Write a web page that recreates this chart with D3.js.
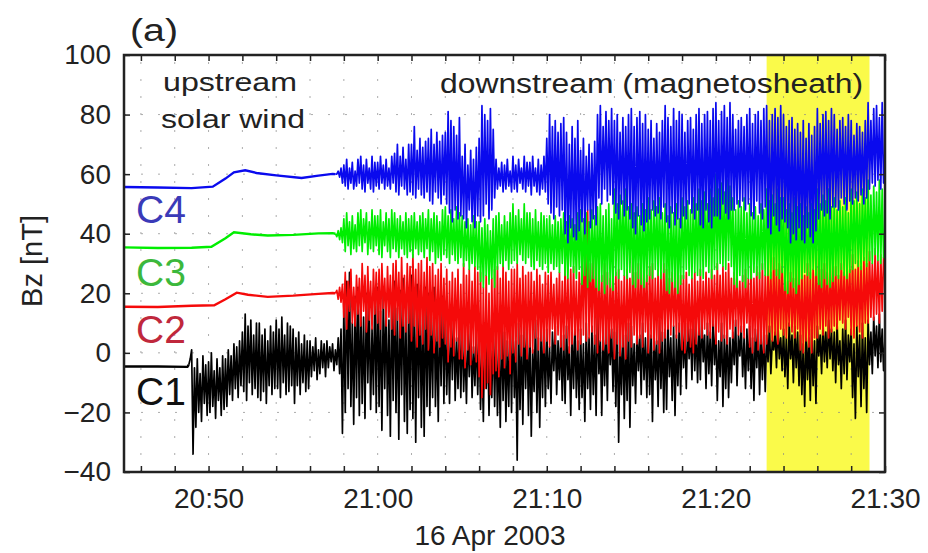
<!DOCTYPE html>
<html>
<head>
<meta charset="utf-8">
<script src="https://cdn.jsdelivr.net/npm/d3@7"></script>
<style>
body{margin:0;background:#fff;}
svg text{font-family:"Liberation Sans",Arial,sans-serif;fill:#222;}
</style>
</head>
<body>
<div id="chart"></div>
<script>
// axis settings
var timeStart = "20:45:00";
var timeEnd = "21:30:00";
var xLabelTicks = ["20:50","21:00","21:10","21:20","21:30"];
var yTicks = [-40,-20,0,20,40,60,80,100];
var bandStart = "21:23:00";
var bandEnd = "21:29:05";

// quiet (upstream) parts, [time, Bz]
var c1Quiet = [["20:45:00",-4.6],["20:47:00",-4.6],["20:48:45",-4.7]];
var c2Quiet = [["20:45:00",15.5],["20:47:00",15.4],["20:49:00",15.8],["20:50:20",16.0],["20:51:00",18.0],["20:51:40",20.2],["20:52:20",19.5],["20:53:30",18.8],["20:55:00",19.2],["20:56:30",19.8],["20:57:20",20.1]];
var c3Quiet = [["20:45:00",35.4],["20:47:00",35.2],["20:49:00",35.3],["20:50:10",35.6],["20:51:00",38.5],["20:51:30",40.5],["20:52:30",39.8],["20:53:30",39.4],["20:55:00",39.6],["20:56:30",40.1],["20:57:20",40.2]];
var c4Quiet = [["20:45:00",55.7],["20:47:00",55.5],["20:49:00",55.3],["20:50:15",55.8],["20:51:00",58.5],["20:51:30",60.6],["20:52:10",61.3],["20:52:50",60.4],["20:54:00",59.6],["20:55:30",58.7],["20:56:30",59.5],["20:57:20",60.1]];

// noisy parts, one sample every 5 s from the start time (one row = one minute)
var stepSec = 5;
var c1Start = "20:48:50";
var c1Noisy = [-4,-2,
 1,-34,-5,-25,-2,-20,-7,-23,-1,-17,-4,-21,
 -3,-20,0,-18,-6,-22,-2,-16,-5,-21,-1,-19,
 -2,-18,1,-14,-1,-16,3,-12,2,-15,4,-11,
 7,-13,13,-16,9,-10,11,-14,6,-12,10,-15,
 10,-16,6,-13,8,-17,4,-11,9,-14,7,-12,
 11,-12,8,-15,12,-10,6,-14,10,-13,9,-11,
 8,-17,5,-11,7,-14,3,-10,6,-13,4,-12,
 4,-8,2,-6,5,-9,1,-7,4,-5,3,-8,
 4,-5,2,-3,3,-6,1,-4,5,-7,8,-27,
 15,-20,24,-12,27,-18,10,-24,19,-15,22,-21,
 18,-17,12,-22,20,-10,16,-19,8,-14,21,-20,
 22,-18,14,-26,19,-12,17,-21,11,-28,20,-16,
 24,-20,15,-29,21,-14,25,-23,12,-27,18,-19,
 26,-22,17,-30,23,-15,20,-25,14,-28,22,-18,
 20,-21,12,-15,22,-18,9,-23,16,-11,19,-17,
 15,-14,7,-17,12,-9,14,-16,5,-12,11,-15,
 10,-13,3,-17,8,-8,9,-15,2,-11,7,-14,
 8,-19,1,-23,10,-12,6,-21,3,-15,9,-18,
 9,-21,2,-25,11,-16,7,-23,4,-18,10,-20,
 12,-15,4,-36,10,-19,6,-24,11,-12,8,-21,
 9,-28,1,-13,11,-20,5,-25,8,-15,10,-18,
 8,-12,2,-17,7,-6,9,-14,4,-9,6,-16,
 6,-17,9,-9,2,-21,7,-12,10,-15,4,-19,
 8,-15,3,-23,10,-12,5,-19,9,-14,6,-21,
 17,-7,4,-21,9,-11,6,-16,12,-4,8,-13,
 7,-18,11,-30,4,-14,9,-22,6,-16,10,-25,
 9,-11,3,-17,8,-6,6,-14,10,-9,5,-15,
 10,-14,6,-23,9,-9,4,-18,11,-12,7,-20,
 8,-19,11,-8,5,-16,9,-21,6,-11,10,-14,
 12,-5,7,-12,10,-2,8,-9,13,-6,9,-10,
 9,-9,13,-3,6,-12,10,-7,7,-11,12,-4,
 8,-16,4,-8,10,-18,6,-12,9,-15,5,-10,
 7,-4,11,-11,6,-1,9,-8,5,-12,8,-6,
 9,-12,5,-16,8,-5,10,-14,6,-9,7,-13,
 6,-3,9,-7,4,1,7,-5,10,-2,5,-6,
 8,-8,5,-12,10,-2,6,-10,9,-5,7,-11,
 6,-14,3,-18,7,-9,5,-16,8,-11,4,-17,
 9,-1,6,-7,10,-3,7,-5,11,-2,8,-6,
 7,-10,10,-4,4,-12,8,-7,11,-9,6,-3,
 8,-15,3,-22,9,-8,6,-18,10,-12,5,-20,
 11,-4,7,-7,12,-1,9,-5,13,-3,8,-6,
 5];
var c2Start = "20:57:30";
var c2Noisy = [20,21,18,22,17,23,
 12,27,8,24,14,28,10,22,9,26,13,25,
 9,30,14,26,7,29,11,24,8,28,13,27,
 10,28,8,30,15,25,9,29,12,26,8,30,
 6,31,11,27,5,32,9,26,7,30,10,29,
 4,33,9,28,2,30,6,31,3,27,8,32,
 1,29,6,30,0,26,4,28,2,30,5,25,
 3,28,-3,24,2,27,-1,25,4,28,-2,23,
 -2,30,-5,26,1,28,-4,24,0,29,-3,27,
 -8,27,-15,22,-12,26,-10,20,-14,25,-7,28,
 -6,29,-8,25,-2,30,-5,27,-1,24,-7,28,
 0,28,-3,30,3,25,-1,29,2,26,-2,27,
 2,27,0,24,5,28,1,26,4,23,0,27,
 4,26,2,27,8,23,3,25,6,27,2,24,
 1,30,5,25,0,28,3,29,6,24,1,27,
 3,33,6,40,4,48,5,30,7,35,3,31,
 0,29,4,26,1,30,3,27,0,25,5,29,
 -2,27,3,28,-1,24,2,26,-2,28,4,25,
 2,32,6,27,3,30,5,28,2,31,7,26,
 0,29,5,30,1,25,3,28,0,27,4,30,
 5,28,8,25,6,27,9,24,5,28,7,26,
 1,26,0,27,4,23,2,25,0,27,3,24,
 6,28,5,24,8,27,6,25,5,28,9,26,
 3,30,7,26,4,29,5,27,3,30,8,25,
 5,27,9,28,6,24,7,26,5,28,10,25,
 2,30,0,25,4,29,1,27,3,30,0,26,
 3,31,7,27,4,32,6,28,3,30,8,29,
 6,28,5,24,9,27,7,25,5,28,8,26,
 1,29,0,26,4,30,2,27,0,28,5,29,
 5,32,8,28,6,30,9,27,5,31,7,29,
 9,29,8,26,11,30,10,27,8,29,12,28,
 6,33,5,28,9,31,7,29,5,32,10,30,
 10,34,12,30,11,35,13,31,10,33,14,32,
 27];
var c3Start = "20:57:30";
var c3Noisy = [40,39,41,38,42,37,
 45,34,47,36,44,33,46,35,43,34,47,36,
 48,34,45,37,47,33,44,35,48,34,46,36,
 46,33,48,32,44,36,47,34,45,32,48,35,
 47,34,45,32,46,35,44,33,47,32,45,34,
 46,32,47,35,44,33,46,34,47,32,45,35,
 48,31,45,34,47,30,46,32,44,31,48,33,
 49,32,46,30,48,33,45,31,49,30,47,32,
 46,29,44,31,45,28,43,30,46,29,44,28,
 44,24,42,22,45,26,43,23,41,25,45,22,
 46,28,47,30,43,29,46,31,44,28,47,30,
 50,31,46,30,48,33,45,31,50,30,47,32,
 47,29,45,28,48,31,44,29,47,28,46,30,
 45,27,46,30,43,28,46,29,44,27,45,30,
 47,26,44,25,46,29,45,27,43,25,47,28,
 48,23,45,26,47,22,44,24,48,25,46,22,
 49,21,50,24,46,20,48,23,50,22,45,21,
 55,26,50,25,53,28,51,26,55,25,49,27,
 50,23,47,22,49,25,46,23,50,22,48,24,
 52,26,48,25,51,28,49,26,52,25,47,27,
 50,21,46,20,49,24,47,22,50,20,45,23,
 52,25,49,28,51,26,48,25,52,27,50,26,
 55,26,51,25,54,29,50,27,55,25,52,28,
 60,28,55,30,57,29,54,28,58,31,56,29,
 52,23,48,22,51,26,49,24,52,22,47,25,
 50,25,47,27,49,26,46,25,50,28,48,26,
 55,26,51,25,53,28,50,26,55,25,52,27,
 52,21,48,20,50,24,47,22,52,20,49,23,
 50,25,46,27,49,26,47,25,50,28,48,26,
 55,23,50,22,53,25,51,23,55,22,49,24,
 52,26,48,25,51,28,49,26,52,25,47,27,
 55,28,51,30,54,29,50,28,55,31,52,29,
 58,31,53,30,56,33,54,31,58,30,55,32,
 40];
var c4Start = "20:57:30";
var c4Noisy = [60,60,61,59,62,57,
 63,56,65,55,62,57,64,55,61,56,65,57,
 66,55,63,54,65,57,62,55,66,54,64,56,
 64,55,66,57,63,55,65,56,62,55,66,57,
 67,54,70,53,66,56,69,55,65,53,70,54,
 70,53,76,52,68,55,72,53,69,52,71,54,
 72,51,75,50,70,54,74,52,71,50,73,53,
 74,50,81,47,78,44,76,48,73,45,79,46,
 66,45,70,42,63,48,68,44,65,42,69,46,
 72,44,83,46,80,50,78,45,82,48,75,52,
 65,55,62,56,64,54,63,55,65,56,61,54,
 66,55,63,54,65,57,62,55,66,54,64,56,
 64,53,66,56,62,54,65,53,63,55,66,54,
 72,50,80,47,76,45,78,49,74,46,77,48,
 79,40,74,37,70,42,76,39,72,38,78,41,
 68,44,72,40,66,48,70,42,67,45,71,43,
 80,52,83,50,76,55,81,51,78,53,82,50,
 78,47,80,45,74,50,79,46,76,48,80,45,
 82,42,76,40,79,46,81,43,77,41,80,44,
 75,45,78,48,72,46,77,47,74,45,78,49,
 83,44,79,42,76,47,82,43,78,45,81,42,
 80,46,74,45,78,50,79,47,75,45,80,48,
 82,43,77,42,80,48,81,44,78,42,82,46,
 84,46,78,45,81,50,83,47,79,45,84,48,
 80,48,75,50,78,49,79,51,76,48,80,50,
 82,46,77,45,80,51,81,47,78,45,82,49,
 83,42,78,40,80,46,82,43,79,41,83,45,
 80,44,76,42,78,37,79,40,75,38,77,42,
 74,38,78,37,72,42,77,39,73,37,76,41,
 82,45,77,48,80,46,81,47,78,45,82,49,
 80,49,75,48,78,52,79,50,76,48,80,51,
 78,50,73,52,77,51,76,53,74,50,78,52,
 84,55,78,57,82,56,83,58,79,55,84,57,
 68];

function init(){
    var w = 928;
    var h = 553;
    var left = 124, right = 885, top = 55, bottom = 472;
    var parseT = d3.timeParse("%H:%M:%S");
    var parseHM = d3.timeParse("%H:%M");

    var svg = d3.select("#chart")
                .append("svg")
                .attr("width", w)
                .attr("height", h);

    var x = d3.scaleTime()
              .domain([parseT(timeStart), parseT(timeEnd)])
              .range([left, right]);
    var y = d3.scaleLinear()
              .domain([-40, 100])
              .range([bottom, top]);

    // yellow interval, behind everything
    svg.append("rect")
       .attr("x", x(parseT(bandStart)))
       .attr("y", top)
       .attr("width", x(parseT(bandEnd)) - x(parseT(bandStart)))
       .attr("height", bottom - top)
       .attr("fill", "#fafa4a");

    // dotted grid
    var minorTicks = x.ticks(d3.timeMinute.every(2));
    var grid = svg.append("g")
                  .attr("stroke", "#8a8a8a")
                  .attr("stroke-width", 1)
                  .attr("stroke-dasharray", "2,15")
                  .attr("opacity", 0.7);
    grid.selectAll(".vg")
        .data(minorTicks.filter(function(d){ return x(d) > left + 2 && x(d) < right - 2; }))
        .enter()
        .append("line")
        .attr("x1", function(d){ return x(d); })
        .attr("x2", function(d){ return x(d); })
        .attr("y1", bottom)
        .attr("y2", top);
    grid.selectAll(".hg")
        .data(yTicks.slice(1, -1))
        .enter()
        .append("line")
        .attr("x1", left)
        .attr("x2", right)
        .attr("y1", function(d){ return y(d); })
        .attr("y2", function(d){ return y(d); });

    svg.append("clipPath").attr("id", "plotclip")
       .append("rect")
       .attr("x", left).attr("y", top)
       .attr("width", right - left).attr("height", bottom - top);

    // build the series from the arrays
    function quietPoints(arr){
        return arr.map(function(d){ return [parseT(d[0]), d[1]]; });
    }
    function noisyPoints(start, arr){
        var t0 = parseT(start);
        return arr.map(function(v, i){ return [d3.timeSecond.offset(t0, i * stepSec), v]; });
    }
    var series = [
        {q: quietPoints(c1Quiet), n: noisyPoints(c1Start, c1Noisy), color: "#000000"},
        {q: quietPoints(c2Quiet), n: noisyPoints(c2Start, c2Noisy), color: "#f50a0a"},
        {q: quietPoints(c3Quiet), n: noisyPoints(c3Start, c3Noisy), color: "#00ee00"},
        {q: quietPoints(c4Quiet), n: noisyPoints(c4Start, c4Noisy), color: "#0a0aee"}
    ];

    var line = d3.line()
                 .x(function(d){ return x(d[0]); })
                 .y(function(d){ return y(d[1]); });

    var plot = svg.append("g").attr("clip-path", "url(#plotclip)");
    series.forEach(function(s){
        plot.append("path")
            .attr("d", line(s.q.concat([s.n[0]])))
            .attr("fill", "none")
            .attr("stroke", s.color)
            .attr("stroke-width", 2.4);
        plot.append("path")
            .attr("d", line(s.n))
            .attr("fill", "none")
            .attr("stroke", s.color)
            .attr("stroke-width", 1.7)
            .attr("stroke-linejoin", "round");
    });

    // annotations
    svg.append("text").text("upstream")
       .attr("x", 163).attr("y", 91)
       .attr("font-size", 26)
       .attr("textLength", 134).attr("lengthAdjust", "spacingAndGlyphs");
    svg.append("text").text("solar wind")
       .attr("x", 161).attr("y", 128)
       .attr("font-size", 26)
       .attr("textLength", 144).attr("lengthAdjust", "spacingAndGlyphs");
    svg.append("text").text("downstream (magnetosheath)")
       .attr("x", 440).attr("y", 93)
       .attr("font-size", 27)
       .attr("textLength", 423).attr("lengthAdjust", "spacingAndGlyphs");

    var labels = [["C4", 223, "#3a3ab8"], ["C3", 286, "#3cb83c"], ["C2", 343, "#c0283c"], ["C1", 405, "#111111"]];
    svg.selectAll(".clab")
       .data(labels)
       .enter()
       .append("text")
       .text(function(d){ return d[0]; })
       .attr("x", 136)
       .attr("y", function(d){ return d[1]; })
       .attr("font-size", 39)
       .style("fill", function(d){ return d[2]; });

    // axes with inward ticks
    var xMinor = d3.axisBottom(x).tickValues(minorTicks).tickSizeInner(-6).tickSizeOuter(0).tickFormat("");
    var xTop = d3.axisTop(x).tickValues(minorTicks).tickSizeInner(-6).tickSizeOuter(0).tickFormat("");
    var xLab = d3.axisBottom(x).tickValues(xLabelTicks.map(parseHM)).tickSize(0).tickPadding(16)
                 .tickFormat(d3.timeFormat("%H:%M"));
    var yLeft = d3.axisLeft(y).tickValues(yTicks).tickSizeInner(-6).tickSizeOuter(0).tickPadding(13);
    var yRight = d3.axisRight(y).tickValues(yTicks).tickSizeInner(-6).tickSizeOuter(0).tickFormat("");

    function styleAxis(g){
        g.select(".domain").remove();
        g.selectAll("line").attr("stroke", "#222").attr("stroke-width", 1.5);
        g.selectAll("text").attr("font-size", 28).attr("font-family", null).style("fill", "#222");
    }
    svg.append("g").attr("transform", "translate(0," + bottom + ")").call(xMinor).call(styleAxis);
    svg.append("g").attr("transform", "translate(0," + top + ")").call(xTop).call(styleAxis);
    svg.append("g").attr("transform", "translate(0," + bottom + ")").call(xLab).call(styleAxis);
    svg.append("g").attr("transform", "translate(" + left + ",0)").call(yLeft).call(styleAxis);
    svg.append("g").attr("transform", "translate(" + right + ",0)").call(yRight).call(styleAxis);

    // frame
    svg.append("rect")
       .attr("x", left).attr("y", top)
       .attr("width", right - left).attr("height", bottom - top)
       .attr("fill", "none")
       .attr("stroke", "#222")
       .attr("stroke-width", 2.5);

    // titles
    svg.append("text").text("(a)")
       .attr("x", 130).attr("y", 41)
       .attr("font-size", 31)
       .attr("textLength", 48).attr("lengthAdjust", "spacingAndGlyphs");
    svg.append("text").text("16 Apr 2003")
       .attr("x", 490).attr("y", 545)
       .attr("text-anchor", "middle")
       .attr("font-size", 28);
    svg.append("text").text("Bz [nT]")
       .attr("transform", "translate(42,261) rotate(-90)")
       .attr("text-anchor", "middle")
       .attr("font-size", 29);
}
window.onload = init;
</script>
</body>
</html>
